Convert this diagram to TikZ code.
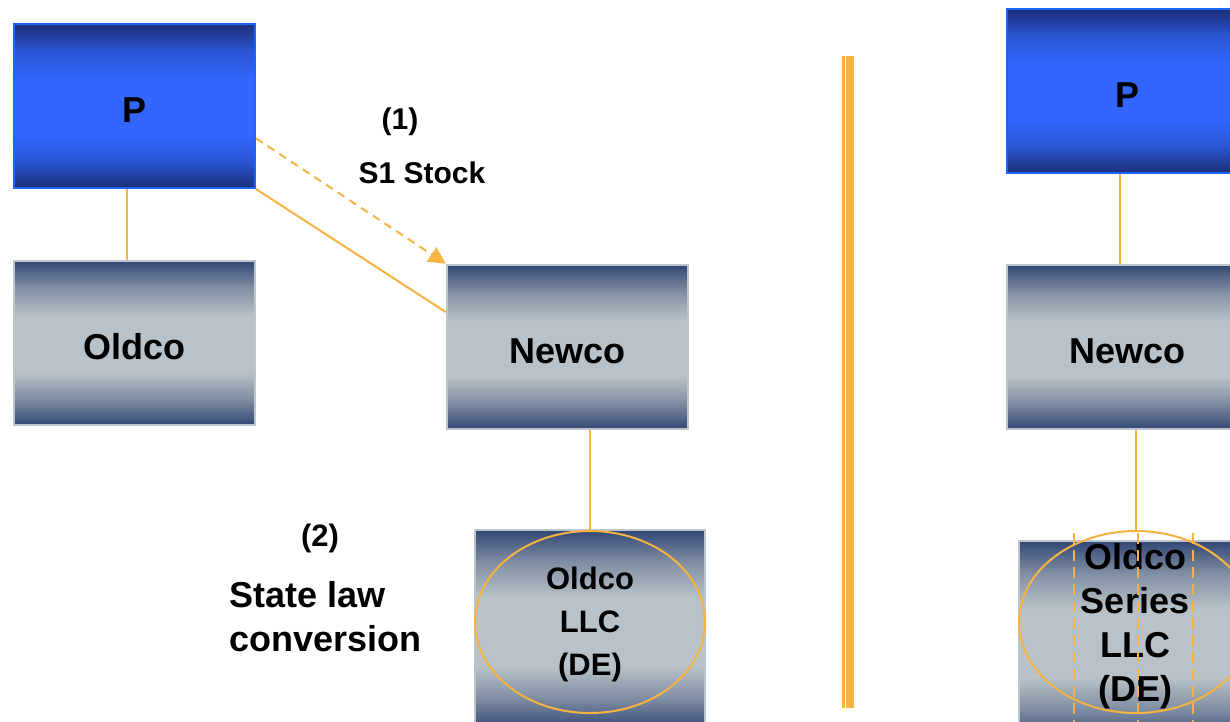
\documentclass[tikz,border=0pt]{standalone}
\usepackage{fontspec}
\setmainfont{Liberation Sans}
\usetikzlibrary{arrows.meta,shapes.geometric,calc}
\definecolor{org}{RGB}{245,179,66}
\definecolor{gnavy}{RGB}{50,71,118}
\definecolor{gmid}{RGB}{128,142,162}
\definecolor{glight}{RGB}{184,194,200}
\definecolor{bdark}{RGB}{27,47,118}
\definecolor{bmidc}{RGB}{42,84,210}
\definecolor{bbright}{RGB}{51,102,255}
\definecolor{bborder}{RGB}{30,100,255}
\definecolor{gborder}{RGB}{188,196,204}
\pgfdeclareverticalshading{grayband}{100bp}{color(0bp)=(gnavy); color(25bp)=(gnavy); color(33bp)=(gmid); color(41bp)=(glight); color(58bp)=(glight); color(67bp)=(gmid); color(75bp)=(gnavy); color(100bp)=(gnavy)}
\pgfdeclareverticalshading{blueband}{100bp}{color(0bp)=(bdark); color(25bp)=(bdark); color(33bp)=(bmidc); color(41bp)=(bbright); color(58bp)=(bbright); color(67bp)=(bmidc); color(75bp)=(bdark); color(100bp)=(bdark)}
\begin{document}
\begin{tikzpicture}[x=1pt,y=-1pt,
  gbox/.style={draw=gborder,line width=2.5pt,shading=grayband,minimum width=241pt,minimum height=164pt,inner sep=0pt,text height=32pt,text depth=0pt,font=\fontsize{36}{44}\selectfont\bfseries},
  bbox/.style={gbox,draw=bborder,line width=2pt,shading=blueband},
  oval/.style={ellipse,draw=org,line width=2pt,inner sep=0pt,minimum height=182pt},
  conn/.style={draw=org,line width=2pt},
  vdash/.style={draw=org,line width=2pt,dash pattern=on 11pt off 6pt},
  lbl/.style={inner sep=0pt,font=\fontsize{30}{36}\selectfont\bfseries},
  biglbl/.style={inner sep=0pt,font=\fontsize{36}{44}\selectfont\bfseries,align=left}]
\useasboundingbox (0,0) rectangle (1230,721);
\fill[white] (0,0) rectangle (1230,721);
\clip (0,0) rectangle (1230,721);

% left side
\node[bbox] (P) at (134.5,106) {P};
\node[gbox] (Oldco) at (134.5,343) {Oldco};
\node[gbox] (Newco) at (567.5,347) {Newco};
\node[gbox,minimum width=230pt,minimum height=200pt] (LLCbox) at (590,630) {};
\node[oval,minimum width=230pt] (LLC) at (590,622) {};
\node[inner sep=0pt,font=\fontsize{31}{43}\selectfont\bfseries,align=center] (LLCtext) at (590,624) {Oldco\\LLC\\(DE)};

\draw[conn] ($(P.south)+(-8,0)$) -- ($(Oldco.north)+(-8,0)$);
\draw[conn] (P.south east) -- ($(Newco.north west)!0.29!(Newco.south west)$);
\draw[conn,dash pattern=on 8pt off 6pt,-{Triangle[length=17pt,width=17pt]}] ($(P.south east)!0.305!(P.north east)$) -- (Newco.north west);
\draw[conn] (Newco.south -| LLC.north) -- (LLC.north);

\node[lbl] (l1) at (400,122) {(1)};
\node[lbl] (l2) at (422,173) {S1 Stock};
\node[lbl,font=\fontsize{31}{36}\selectfont\bfseries] (l3) at (320,538) {(2)};
\node[biglbl,anchor=west] (l4) at (229,617) {State law\\conversion};

% divider
\fill[org] (842,56) rectangle (845,708);
\fill[org] (846,56) rectangle (854,708);

% right side
\node[bbox] (P2) at (1127.5,91) {P};
\node[gbox] (Newco2) at (1127.5,347) {Newco};
\node[gbox,minimum width=230pt,minimum height=200pt] (Sbox) at (1134,641) {};
\node[oval,minimum width=234pt] (Series) at (1136,622) {};
\node[inner sep=0pt,font=\fontsize{36}{44}\selectfont\bfseries,align=center] (Stext) at (1135,626) {Oldco\\Series\\LLC\\(DE)};

\draw[conn] ($(P2.south)+(-7.5,0)$) -- ($(Newco2.north)+(-7.5,0)$);
\draw[conn] (Newco2.south -| Series.north) -- (Series.north);

\draw[vdash] (1074,533) -- (1074,725);
\draw[vdash] (1138,533) -- (1138,725);
\draw[vdash] (1193,533) -- (1193,725);
\end{tikzpicture}
\end{document}
